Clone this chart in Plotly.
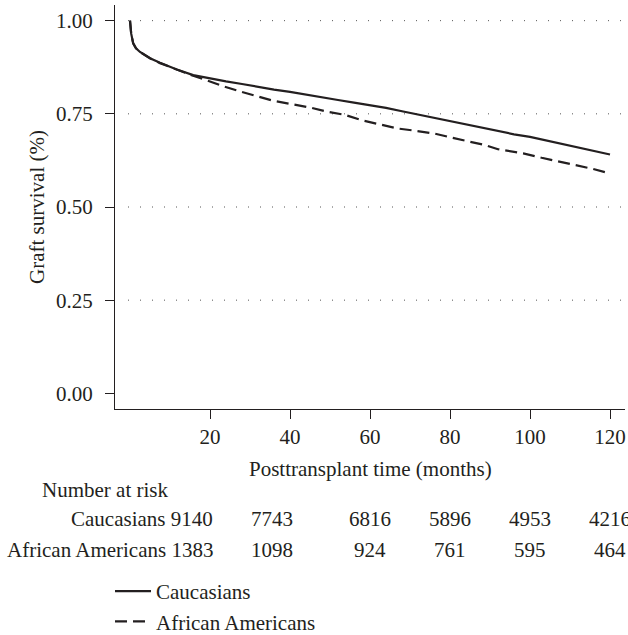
import plotly.graph_objects as go

# ---------------- data ----------------
cauc_t = [0, 0.3, 0.8, 1.5, 2.5, 5, 7.5, 11.7, 15.8, 20, 24, 28, 32, 36, 40, 44, 48, 52, 56, 60,
          64, 68, 72, 76, 80, 84, 88, 92, 96, 100, 104, 108, 112, 116, 120]
cauc_s = [1.0, 0.965, 0.939, 0.926, 0.916, 0.899, 0.887, 0.869, 0.854, 0.845, 0.837, 0.830, 0.822,
          0.815, 0.809, 0.801, 0.794, 0.787, 0.780, 0.773, 0.766, 0.757, 0.748, 0.740, 0.731, 0.722,
          0.712, 0.703, 0.695, 0.688, 0.679, 0.669, 0.661, 0.652, 0.641]

afam_t = [0, 0.3, 0.8, 1.5, 2.5, 5, 7.5, 11.7, 15.8, 19.2, 23.3, 27.9, 31.7, 35.8, 40.4, 45, 49.6,
          53.8, 57.9, 62, 66.7, 71.7, 76.2, 80.4, 84.6, 88.8, 92, 95, 98.3, 102.9, 107, 111.7, 115.8, 120]
afam_s = [1.0, 0.965, 0.939, 0.926, 0.916, 0.899, 0.886, 0.868, 0.852, 0.840, 0.824, 0.809, 0.798,
          0.785, 0.776, 0.767, 0.755, 0.747, 0.733, 0.722, 0.711, 0.704, 0.697, 0.686, 0.677, 0.666,
          0.655, 0.650, 0.644, 0.632, 0.623, 0.612, 0.602, 0.590]

x_ticks = [20, 40, 60, 80, 100, 120]
y_ticks = [0.0, 0.25, 0.5, 0.75, 1.0]
grid_levels = [0.25, 0.5, 0.75, 1.0]

risk_groups = ["Caucasians", "African Americans"]
risk_first = [9140, 1383]
risk_counts = [[7743, 6816, 5896, 4953, 4216],
               [1098, 924, 761, 595, 464]]
risk_col_t = [35.5, 60, 80, 100, 120]   # column positions (months) of the risk table

# ---------------- style / layout ----------------
INK = "#231f20"
FONT = "Liberation Serif"
FS = 21
W, H = 628, 635
ML, MR, MT, MB = 115, 3, 5, 226
PW, PH = W - ML - MR, H - MT - MB


def px_x(px):
    return (px - ML) / PW


def px_y(py):
    return (H - MB - py) / PH


fig = go.Figure()
fig.add_trace(go.Scatter(x=cauc_t, y=cauc_s, mode="lines", name="Caucasians",
                         line=dict(color=INK, width=2.2)))
fig.add_trace(go.Scatter(x=afam_t, y=afam_s, mode="lines", name="African Americans",
                         line=dict(color=INK, width=2.2, dash="12px,6px")))

shapes = []
for g in grid_levels:
    shapes.append(dict(type="line", xref="x", yref="y", x0=-0.5, x1=123.75, y0=g, y1=g,
                       line=dict(color="#555555", width=1, dash="1px,11px"), layer="below"))

ann = []
ann.append(dict(text="Posttransplant time (months)", xref="paper", yref="paper",
                x=px_x(370.5), y=px_y(469), xanchor="center", yanchor="middle", showarrow=False))
ann.append(dict(text="Graft survival (%)", xref="paper", yref="paper", textangle=-90,
                x=px_x(37), y=px_y(207), xanchor="center", yanchor="middle", showarrow=False))
ann.append(dict(text="Number at risk", xref="paper", yref="paper",
                x=px_x(40), y=px_y(490), xanchor="left", yanchor="middle", showarrow=False))
row_y = [519, 550]
for i, g in enumerate(risk_groups):
    ann.append(dict(text=f"{g} {risk_first[i]}", xref="paper", yref="paper",
                    x=px_x(215), y=px_y(row_y[i]), xanchor="right", yanchor="middle",
                    showarrow=False))
    for t, c in zip(risk_col_t, risk_counts[i]):
        ann.append(dict(text=str(c), xref="x", yref="paper", x=t, y=px_y(row_y[i]),
                        xanchor="center", yanchor="middle", showarrow=False))

fig.update_layout(
    width=W, height=H,
    margin=dict(l=ML, r=MR, t=MT, b=MB, pad=0, autoexpand=False),
    paper_bgcolor="white", plot_bgcolor="white",
    font=dict(family=FONT, size=FS, color=INK),
    showlegend=True,
    legend=dict(x=px_x(110), y=px_y(571), xanchor="left", yanchor="top",
                bgcolor="rgba(0,0,0,0)", font=dict(size=FS, family=FONT, color=INK),
                itemwidth=36, tracegroupgap=0),
    shapes=shapes,
    annotations=ann,
    xaxis=dict(range=[-3.75, 123.75], tickvals=x_ticks, showgrid=False, zeroline=False,
               automargin=False,
               showline=True, linecolor=INK, linewidth=1.3, ticks="outside", ticklen=9,
               tickwidth=1.3, tickcolor=INK, tickfont=dict(size=FS, family=FONT, color=INK),
               ticklabelstandoff=0),
    yaxis=dict(range=[-0.042, 1.042], tickvals=y_ticks, tickformat=".2f", showgrid=False,
               automargin=False,
               zeroline=False, showline=True, linecolor=INK, linewidth=1.3, ticks="outside",
               ticklen=9, tickwidth=1.3, tickcolor=INK,
               tickfont=dict(size=FS, family=FONT, color=INK), ticklabelstandoff=8),
)

fig.write_html("out.html")
